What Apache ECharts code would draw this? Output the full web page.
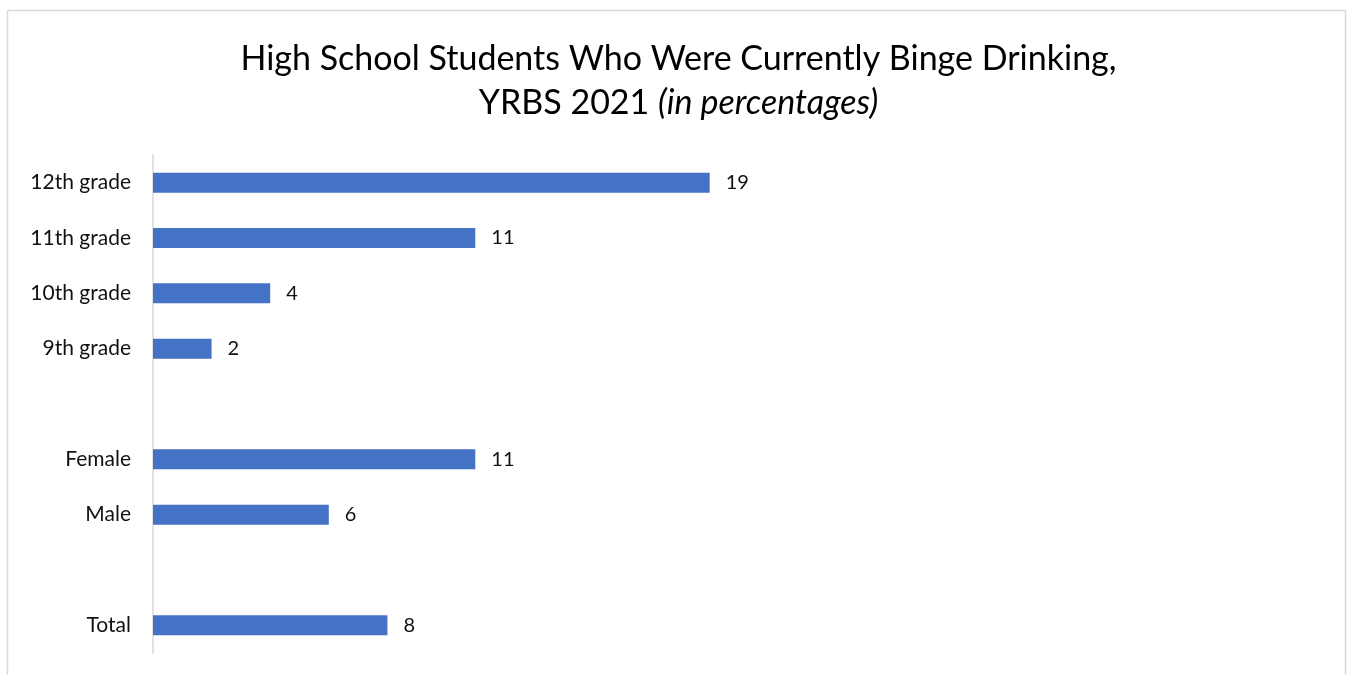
<!DOCTYPE html>
<html>
<head>
<meta charset="utf-8">
<script src="https://cdn.jsdelivr.net/npm/echarts@6/dist/echarts.min.js"></script>
<style>
  html, body { margin: 0; padding: 0; background: #fff; }
  #chart { width: 1357px; height: 675px; }
</style>
</head>
<body>
<div id="chart"></div>
<script>
// categories from bottom to top, blanks are the gaps between groups
var categories = ['Total', ' ', 'Male', 'Female', '  ', '9th grade', '10th grade', '11th grade', '12th grade'];
var values = [8, null, 6, 11, null, 2, 4, 11, 19];

var font = 'Lato, "Open Sans", sans-serif';

var chart = echarts.init(document.getElementById('chart'));
chart.setOption({
    backgroundColor: '#fff',
    animation: false,
    graphic: [{
        type: 'rect',
        shape: { x: 7.5, y: 10.5, width: 1338, height: 700 },
        style: { fill: 'none', stroke: '#d9d9d9', lineWidth: 1.5 }
    }],
    title: {
        left: 'center',
        top: 32,
        text: '{a|High School Students Who Were Currently Binge Drinking,}\n{a|YRBS 2021 }{b|(in percentages)}',
        textStyle: {
            rich: {
                a: { fontFamily: font, fontSize: 34, fontWeight: 'normal', color: '#000', lineHeight: 44 },
                b: { fontFamily: font, fontSize: 34, fontWeight: 'normal', color: '#000', fontStyle: 'italic', lineHeight: 44 }
            }
        }
    },
    grid: { left: 153, right: 32, top: 155, bottom: 22, containLabel: false },
    xAxis: {
        type: 'value',
        min: 0,
        max: 40,
        show: false
    },
    yAxis: {
        type: 'category',
        data: categories,
        axisLine: { show: true, lineStyle: { color: '#d9d9d9', width: 1.5 } },
        axisTick: { show: false },
        axisLabel: { fontFamily: font, fontSize: 21, color: '#111', margin: 22 }
    },
    series: [{
        type: 'bar',
        data: values,
        barWidth: 20,
        itemStyle: { color: '#4472C4' },
        label: {
            show: true,
            position: 'right',
            distance: 16,
            fontFamily: font,
            fontSize: 20,
            color: '#111'
        }
    }]
});
</script>
</body>
</html>
